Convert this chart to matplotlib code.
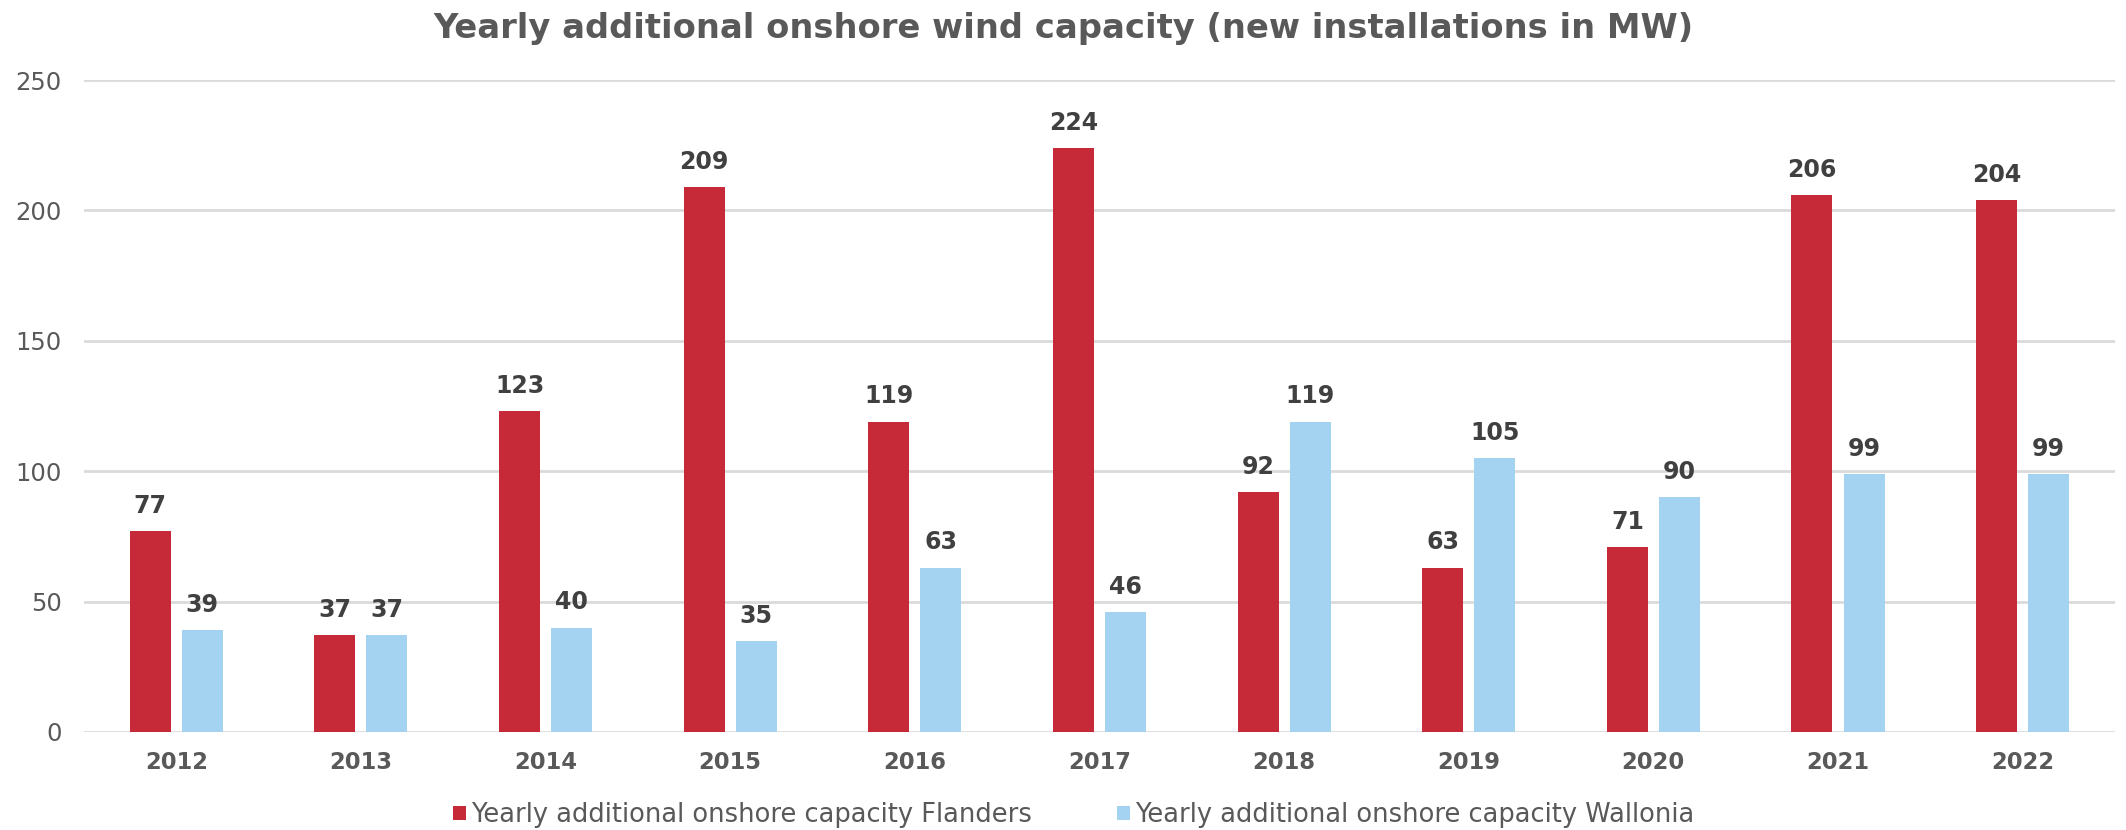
import numpy as np
import matplotlib
matplotlib.use("Agg")
import matplotlib.pyplot as plt

plt.rcParams['font.family'] = ['DejaVu Sans']

# data
years = ['2012', '2013', '2014', '2015', '2016', '2017', '2018', '2019', '2020', '2021', '2022']
flanders = [77, 37, 123, 209, 119, 224, 92, 63, 71, 206, 204]
wallonia = [39, 37, 40, 35, 63, 46, 119, 105, 90, 99, 99]
series_names = ['Yearly additional onshore capacity Flanders',
                'Yearly additional onshore capacity Wallonia']

red = '#C62A38'
blue = '#A4D3F2'
grid_col = '#DADADA'
text_col = '#595959'
label_col = '#404040'

fig = plt.figure(figsize=(21.26, 8.3), dpi=100)
ax = fig.add_axes([0.0395, 0.1181, 0.9553, 0.7855])

x = np.arange(len(years))
w = 0.222
off = 0.141
b1 = ax.bar(x - off, flanders, w, color=red, label=series_names[0], zorder=3)
b2 = ax.bar(x + off, wallonia, w, color=blue, label=series_names[1], zorder=3)

for bars, vals in ((b1, flanders), (b2, wallonia)):
    for rect, v in zip(bars, vals):
        ax.annotate(str(v), (rect.get_x() + rect.get_width() / 2, v),
                    xytext=(0, 9.5), textcoords='offset points',
                    ha='center', va='bottom', fontsize=17, fontweight='bold',
                    color=label_col)

ax.set_xlim(-0.5, len(years) - 0.5)
ax.set_ylim(0, 250)
ax.set_yticks([0, 50, 100, 150, 200, 250])
ax.set_xticks(x)
ax.set_xticklabels(years, fontsize=16.3, fontweight='bold', color=text_col)
ax.tick_params(axis='y', labelsize=17.5, labelcolor=text_col, length=0, pad=16)
ax.tick_params(axis='x', length=0, pad=14)
ax.yaxis.grid(True, color=grid_col, linewidth=2, zorder=0)
ax.set_axisbelow(True)
for s in ax.spines.values():
    s.set_visible(False)

fig.suptitle('Yearly additional onshore wind capacity (new installations in MW)',
             x=0.5, y=0.966, va='center', fontsize=24.3, fontweight='bold', color=text_col)

leg = fig.legend(handles=[b1, b2], loc='center', bbox_to_anchor=(0.505, 0.018),
                 ncol=2, frameon=False, fontsize=18.5, labelcolor=text_col,
                 handlelength=0.5, handleheight=0.5, handletextpad=0.2,
                 columnspacing=3.3)

fig.savefig('out.png', dpi=100)
